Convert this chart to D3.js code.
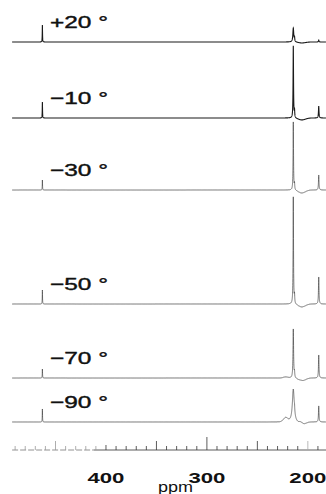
<!DOCTYPE html>
<html>
<head>
<meta charset="utf-8">
<script src="https://cdn.jsdelivr.net/npm/d3@7"></script>
<style>
  body { margin: 0; background: #fff; }
  svg { display: block; }
</style>
</head>
<body>
<svg></svg>
<script>
// -------------------------------------------------------------
const width  = 326;
const height = 494;

// temperature of each trace, top to bottom
const temps   = ['+20 °', '−10 °', '−30 °', '−50 °', '−70 °', '−90 °'];
// vertical offset of each trace in the stack (intensity units)
const offsets = [408, 332, 260, 146, 72, 28];

// peak positions (ppm)
const peakPpm = { left: 463, main: 214.4, shoulder: 213.2, trough: 206, hump: 222, side: 189.2 };

// peak heights per trace (intensity units)
const leftPeak     = [17, 16, 10, 14, 9, 13];
const mainPeak     = [14, 72, 68, 107, 49, 33];
const shoulderPeak = [4, 7, 6, 8, 5, 4];
const troughDepth  = [-1, -2, -3, -3, -3, -3];
const humpPeak     = [0, 0, 0, 0, 1, 4];
const sidePeak     = [2, 12, 15, 27, 23, 16];
// half widths of the main line (ppm)
const mainWidth    = [0.5, 0.25, 0.25, 0.25, 0.35, 1.1];

// axis
const minorTicks = d3.range(190, 500, 10);
const tickLabels = [400, 300, 200];

const svg = d3.select('svg').attr('width', width).attr('height', height);

const x = d3.scaleLinear().domain([505, 182]).range([0, width]);
const y = d3.scaleLinear().domain([0, 450]).range([450, 0]);

drawTraces();
drawAxis();

// -------------------------------------------------------------
function lorentz(p, p0, h, w) {
  const d = (p - p0) / w;
  return h / (1 + d * d);
}

function gauss(p, p0, h, w) {
  const d = (p - p0) / w;
  return h * Math.exp(-d * d);
}

function spectrum(i) {
  const pts = [];
  for (let p = 493; p >= 182; p -= 0.05) {
    const v = lorentz(p, peakPpm.left, leftPeak[i], 0.15)
      + lorentz(p, peakPpm.main, mainPeak[i], mainWidth[i])
      + lorentz(p, peakPpm.shoulder, shoulderPeak[i], 0.25)
      + gauss(p, peakPpm.trough, troughDepth[i], 5)
      + gauss(p, peakPpm.hump, humpPeak[i], 3)
      + gauss(p, 207, humpPeak[i] * 0.6, 2.5)
      + lorentz(p, peakPpm.side, sidePeak[i], 0.3);
    pts.push({ p: p, v: v });
  }
  return pts;
}

// -------------------------------------------------------------
function drawTraces() {
  const line = d3.line().x(d => x(d.p)).y(d => d.y);

  const g = svg.append('g');

  temps.forEach((t, i) => {
    const data = spectrum(i).map(d => ({ p: d.p, y: y(offsets[i] + d.v) }));
    g.append('path')
      .attr('d', line(data))
      .attr('fill', 'none')
      .attr('stroke', i < 2 ? '#1a1a1a' : '#444')
      .attr('stroke-width', i < 2 ? 1.1 : 0.7);

    g.append('text')
      .attr('x', 50)
      .attr('y', y(offsets[i]) - 14)
      .attr('textLength', 58)
      .attr('lengthAdjust', 'spacingAndGlyphs')
      .style('font-family', 'Liberation Sans, Arial, sans-serif')
      .style('font-size', '17px')
      .style('fill', '#111')
      .style('stroke', '#111')
      .style('stroke-width', 0.4)
      .text(t);
  });
}

// -------------------------------------------------------------
function drawAxis() {
  const base = y(0);
  const g = svg.append('g');

  g.append('line')
    .attr('x1', x(493)).attr('x2', x(412))
    .attr('y1', base).attr('y2', base)
    .attr('stroke', '#777').attr('stroke-width', 0.8)
    .attr('stroke-dasharray', '6,2');

  g.append('line')
    .attr('x1', x(412)).attr('x2', width)
    .attr('y1', base).attr('y2', base)
    .attr('stroke', '#333').attr('stroke-width', 0.8);

  g.selectAll('.tick')
    .data(minorTicks)
    .enter().append('line')
    .attr('class', 'tick')
    .attr('x1', d => x(d)).attr('x2', d => x(d))
    .attr('y1', base)
    .attr('y2', d => base - (d === 300 ? 13 : d % 50 === 0 ? (d === 400 ? 5 : 9) : 4))
    .attr('stroke', d => d > 400 ? '#999' : d === 200 ? '#aaa' : '#333')
    .attr('stroke-width', 0.8);

  g.selectAll('.label')
    .data(tickLabels)
    .enter().append('text')
    .attr('class', 'label')
    .attr('x', d => x(d) - 18.5)
    .attr('y', 483)
    .attr('textLength', 37)
    .attr('lengthAdjust', 'spacingAndGlyphs')
    .style('font-family', 'Liberation Sans, Arial, sans-serif')
    .style('font-weight', 'bold')
    .style('font-size', '15.5px')
    .style('fill', '#111')
    .text(d => d);

  g.append('text')
    .attr('x', 158)
    .attr('y', 492)
    .attr('textLength', 35)
    .attr('lengthAdjust', 'spacingAndGlyphs')
    .style('font-family', 'Liberation Sans, Arial, sans-serif')
    .style('font-size', '14px')
    .style('fill', '#111')
    .text('ppm');
}
</script>
</body>
</html>
